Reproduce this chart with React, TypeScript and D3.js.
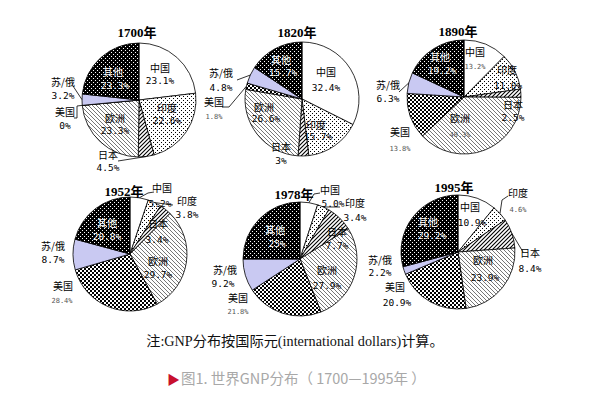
import React, { useEffect, useRef } from "react";
import * as d3 from "d3";

// regions, in the clockwise order they appear from 12 o'clock
const regions = ["中国", "印度", "日本", "欧洲", "美国", "苏/俄", "其他"];
const years = ["1700年", "1820年", "1890年", "1952年", "1978年", "1995年"];

// GNP share per region (percent, as printed on the chart)
const share1700 = ["23.1", "22.6", "4.5", "23.3", "0", "3.2", "23.3"];
const share1820 = ["32.4", "15.7", "3", "26.6", "1.8", "4.8", "15.7"];
const share1890 = ["13.2", "11.0", "2.5", "40.3", "13.8", "6.3", "19.2"];
const share1952 = ["5.2", "3.8", "3.4", "29.7", "28.4", "8.7", "20.8"];
const share1978 = ["5.0", "3.4", "7.7", "27.9", "21.8", "9.2", "25"];
const share1995 = ["10.9", "4.6", "8.4", "23.9", "20.9", "2.2", "29.2"];

const shares = [share1700, share1820, share1890, share1952, share1978, share1995];

const note = "注:GNP分布按国际元(international dollars)计算。";
const caption = "图1. 世界GNP分布（ 1700—1995年 ）";

// layout: centre of each pie and title offset
const pies = [
  { cx: 139, cy: 100, title: [-2, -63] },
  { cx: 302, cy: 99, title: [-5, -62] },
  { cx: 464, cy: 97, title: [-6, -61] },
  { cx: 130, cy: 254, title: [-6, -58] },
  { cx: 300, cy: 259, title: [-6, -60] },
  { cx: 458, cy: 252, title: [-4, -60] },
];

// label placement per pie/slice: [nameDx, nameDy, pctDx, pctDy, style, leader points?]
// style: b = black, w = white, g = small grey percentage
type Lab = [number, number, number, number, string, number[][]?];
const labels: Lab[][] = [
  [
    [21, -32, 21, -20, "b"],
    [28, 8, 28, 20, "b"],
    [-31, 55, -31, 67, "b", [[-21, 61]]],
    [-24, 18, -24, 30, "b"],
    [-74, 12, -74, 25, "b", [[-62, 6], [-62, 18], [-65, 18]]],
    [-76, -18, -76, -5, "b", [[-66, -14]]],
    [-26, -28, -24, -15, "w"],
  ],
  [
    [24, -27, 24, -12, "b"],
    [14, 26, 16, 37, "b"],
    [-21, 48, -21, 61, "b"],
    [-38, 8, -36, 19, "b"],
    [-88, 3, -88, 16, "g", [[-73, 8], [-80, 8]]],
    [-81, -26, -81, -12, "b", [[-65, -19]]],
    [-21, -39, -19, -27, "w"],
  ],
  [
    [11, -45, 11, -32, "g"],
    [43, -27, 44, -12, "b"],
    [49, 8, 49, 20, "b"],
    [-4, 21, -4, 36, "g"],
    [-64, 35, -64, 50, "g"],
    [-76, -12, -76, 1, "b", [[-65, -5]]],
    [-24, -40, -22, -27, "w"],
  ],
  [
    [32, -66, 30, -51, "b", [[18, -61], [24, -62]]],
    [57, -53, 57, -40, "b", [[43, -49]]],
    [28, -30, 27, -15, "b"],
    [28, 7, 28, 20, "b"],
    [-67, 32, -68, 45, "g"],
    [-77, -8, -77, 5, "b"],
    [-23, -31, -23, -18, "w"],
  ],
  [
    [30, -69, 33, -56, "b", [[14, -65], [20, -66]]],
    [55, -56, 55, -42, "b", [[40, -52]]],
    [37, -27, 37, -14, "b"],
    [27, 11, 27, 26, "b"],
    [-62, 39, -62, 51, "g"],
    [-75, 11, -77, 24, "b"],
    [-25, -29, -23, -16, "w"],
  ],
  [
    [12, -45, 14, -30, "b"],
    [60, -59, 60, -44, "g", [[44, -52], [50, -56]]],
    [72, 1, 72, 16, "b", [[65, 0]]],
    [25, 8, 27, 25, "b"],
    [-63, 35, -61, 50, "b"],
    [-78, 8, -78, 20, "b"],
    [-30, -30, -26, -17, "w"],
  ],
];

const fills = ["#ffffff", "url(#pDots)", "url(#pJapan)", "url(#pEurope)", "url(#pCheck)", "#c9c9f2", "url(#pOther)"];

const CJK = "'Noto Sans CJK SC', sans-serif";

const App: React.FC = () => {
  const svgRef = useRef<SVGSVGElement>(null);

  useEffect(() => {
    if (!svgRef.current) return;
    const svg = d3.select(svgRef.current);
    svg.selectAll("*").remove();

    // Patterns
    const defs = svg.append("defs");
    const dots = defs.append("pattern").attr("id", "pDots").attr("patternUnits", "userSpaceOnUse")
      .attr("width", 4).attr("height", 4);
    dots.append("rect").attr("width", 4).attr("height", 4).attr("fill", "#fff");
    dots.append("rect").attr("x", 0).attr("y", 0).attr("width", 1).attr("height", 1).attr("fill", "#000");
    dots.append("rect").attr("x", 2).attr("y", 2).attr("width", 1).attr("height", 1).attr("fill", "#000");

    const other = defs.append("pattern").attr("id", "pOther").attr("patternUnits", "userSpaceOnUse")
      .attr("width", 4).attr("height", 4);
    other.append("rect").attr("width", 4).attr("height", 4).attr("fill", "#000");
    other.append("rect").attr("x", 0).attr("y", 0).attr("width", 1).attr("height", 1).attr("fill", "#fff");
    other.append("rect").attr("x", 2).attr("y", 2).attr("width", 1).attr("height", 1).attr("fill", "#fff");

    const japan = defs.append("pattern").attr("id", "pJapan").attr("patternUnits", "userSpaceOnUse")
      .attr("width", 4).attr("height", 4);
    japan.append("rect").attr("width", 4).attr("height", 4).attr("fill", "#fff");
    japan.append("path").attr("d", "M-1,1 l2,-2 M0,4 l4,-4 M3,5 l2,-2").attr("stroke", "#000").attr("stroke-width", 1.1);

    const europe = defs.append("pattern").attr("id", "pEurope").attr("patternUnits", "userSpaceOnUse")
      .attr("width", 4).attr("height", 4);
    europe.append("rect").attr("width", 4).attr("height", 4).attr("fill", "#fff");
    europe.append("path").attr("d", "M-1,3 l2,2 M0,0 l4,4 M3,-1 l2,2").attr("stroke", "#777").attr("stroke-width", 1);

    const check = defs.append("pattern").attr("id", "pCheck").attr("patternUnits", "userSpaceOnUse")
      .attr("width", 4).attr("height", 4);
    check.append("rect").attr("width", 4).attr("height", 4).attr("fill", "#fff");
    check.append("rect").attr("x", 0).attr("y", 0).attr("width", 2).attr("height", 2).attr("fill", "#000");
    check.append("rect").attr("x", 2).attr("y", 2).attr("width", 2).attr("height", 2).attr("fill", "#000");

    svg.append("rect").attr("width", 602).attr("height", 397).attr("fill", "#fff");

    const r = 57;
    const pie = d3.pie<number>().sort(null).value((d) => d);
    const arc = d3.arc<d3.PieArcDatum<number>>().innerRadius(0).outerRadius(r);

    shares.forEach((share, i) => {
      const { cx, cy, title } = pies[i];
      const g = svg.append("g").attr("transform", `translate(${cx},${cy})`);
      const arcs = pie(share.map(Number));

      g.selectAll("path.slice")
        .data(arcs)
        .enter()
        .append("path")
        .attr("class", "slice")
        .attr("d", arc)
        .attr("fill", (_, j) => fills[j])
        .attr("stroke", "#000")
        .attr("stroke-width", 0.8);

      // leader lines
      arcs.forEach((a, j) => {
        const lead = labels[i][j][5];
        if (!lead) return;
        const mid = (a.startAngle + a.endAngle) / 2;
        const start: [number, number] = [Math.sin(mid) * r, -Math.cos(mid) * r];
        g.append("path")
          .attr("d", d3.line()([start, ...(lead as [number, number][])]))
          .attr("fill", "none")
          .attr("stroke", "#000")
          .attr("stroke-width", 0.8);
      });

      // labels
      arcs.forEach((a, j) => {
        const [nx, ny, px, py, style] = labels[i][j];
        const color = style === "w" ? "#fff" : "#000";
        g.append("text")
          .attr("x", nx)
          .attr("y", ny + 4)
          .attr("text-anchor", "middle")
          .style("font-family", CJK)
          .style("font-size", "10px")
          .attr("fill", color)
          .text(regions[j]);
        g.append("text")
          .attr("x", px)
          .attr("y", py + 4)
          .attr("text-anchor", "middle")
          .style("font-family", "'DejaVu Sans Mono', monospace")
          .style("font-size", style === "g" ? "7px" : "9.5px")
          .attr("fill", style === "g" ? "#555" : color)
          .text(share[j] + "%");
      });

      g.append("text")
        .attr("x", title[0])
        .attr("y", title[1])
        .attr("text-anchor", "middle")
        .style("font-family", "'Liberation Serif', 'Noto Sans CJK SC', serif")
        .style("font-weight", "bold")
        .style("font-size", "13px")
        .attr("fill", "#000")
        .text(years[i]);
    });

    svg.append("text")
      .attr("x", 295)
      .attr("y", 346)
      .attr("text-anchor", "middle")
      .style("font-family", "'Liberation Serif', 'Noto Sans CJK SC', serif")
      .style("font-size", "14.2px")
      .attr("fill", "#111")
      .text(note);

    svg.append("text")
      .attr("x", 167)
      .attr("y", 384)
      .style("font-family", "'Noto Sans CJK SC', sans-serif")
      .style("font-size", "13px")
      .attr("fill", "#c8102e")
      .text("▶");
    svg.append("text")
      .attr("x", 181)
      .attr("y", 384)
      .style("font-family", "'Noto Sans CJK SC', sans-serif")
      .style("font-size", "14.5px")
      .attr("fill", "#a8a8a8")
      .text(caption);
  }, []);

  return (
    <div>
      <svg ref={svgRef} width={602} height={397} style={{ position: "absolute", left: 0, top: 0 }}></svg>
    </div>
  );
};

export default App;
